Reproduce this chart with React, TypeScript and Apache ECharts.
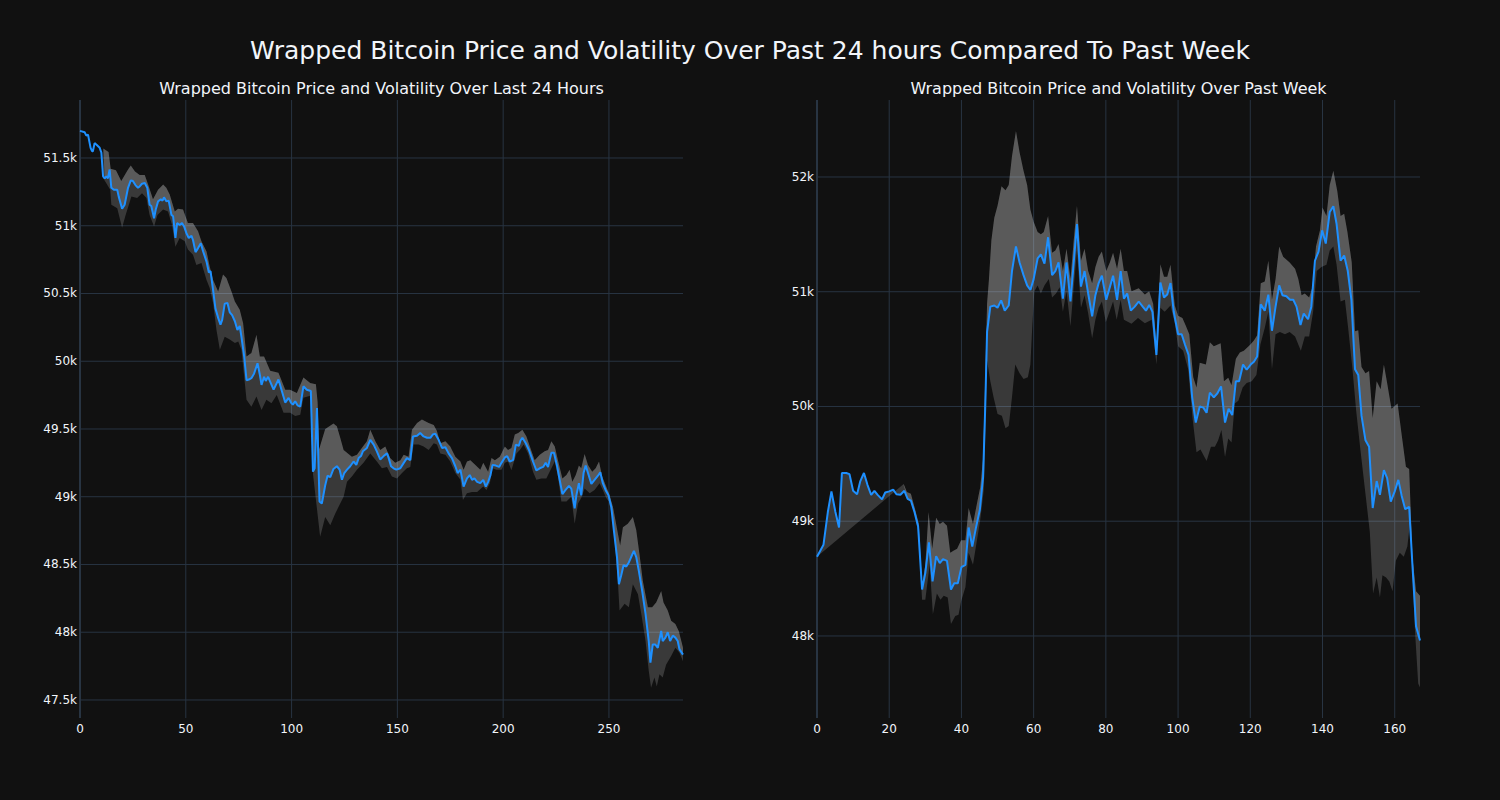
import { useEffect, useRef } from "react";
import * as echarts from "echarts";

// ---------- data (x index, price in USD) ----------
const leftPrice: [number, number][] = [
  [0,51700],[2.2,51690],[3,51665],[3.8,51672],[5,51575],[5.7,51550],[6.1,51550],[6.9,51610],[7.7,51600],[9.3,51575],[10.1,51540],[10.9,51365],[11.7,51350],[12.5,51365],[13.2,51350],[14,51415],[14.8,51280],[16,51265],[17.6,51265],[18.3,51215],[19.9,51125],[21.1,51155],[22.7,51280],[24,51335],[25,51330],[26.2,51300],[27.4,51280],[28.2,51290],[29.3,51310],[30.6,51315],[31.8,51280],[32.9,51155],[33.7,51145],[35,51055],[35.8,51120],[36.9,51180],[38.2,51195],[39,51185],[39.7,51210],[40.8,51180],[41.9,51185],[43.2,51080],[44,51070],[45.1,50910],[45.9,51020],[47.1,51005],[48.2,51020],[49.2,50995],[50.3,50945],[51.4,50910],[52.7,50925],[53.4,50895],[54.6,50805],[55.8,50835],[57.1,50870],[58.2,50810],[59.8,50735],[60.9,50655],[61.7,50665],[62.9,50525],[64,50390],[65.3,50320],[66.4,50270],[67.2,50305],[68.4,50425],[69.7,50430],[70.8,50360],[71.9,50340],[73.2,50295],[74.4,50230],[75.5,50260],[76.3,50180],[77.6,50035],[78.7,49860],[79.8,49865],[81,49875],[82.3,49910],[83.9,49985],[85,49900],[85.8,49825],[87,49885],[87.8,49855],[88.9,49885],
  [91.5,49790],[93.8,49865],[95.4,49780],[97,49695],[98.6,49730],[99.7,49695],[100.6,49680],[101.7,49705],[102.8,49675],[104.1,49665],[105.6,49815],[107.2,49790],[109.1,49780],[110.1,49185],[110.9,49210],[112,49655],[113.2,48965],[114.3,48950],[115.9,49085],[117,49155],[118.3,49145],[119.8,49205],[121.4,49225],[122.7,49200],[123.8,49125],[124.9,49175],[126.2,49200],[127.7,49225],[129.3,49260],[130.6,49235],[131.7,49285],[132.8,49300],[133.7,49335],[135.6,49360],[137.2,49420],[138.8,49385],[140.3,49335],[141.9,49275],[143.5,49300],[145.1,49320],[145.9,49285],[147,49225],[148.2,49210],[149.5,49200],[151.4,49210],[153,49250],[154.5,49285],[156.1,49270],[157.4,49445],[159.3,49450],[160.8,49470],[162.4,49445],[164,49435],[165.6,49435],[166.8,49460],[167.9,49465],[169.5,49420],[171.1,49360],[172.7,49365],[174.2,49320],[175.8,49285],[177.4,49225],[178.5,49175],[179.8,49200],[181.3,49075],[182.9,49135],[184.2,49160],[185.3,49125],[186.4,49135],[187.7,49110],[189.2,49100],
  [190.6,49125],[191.8,49075],[192.9,49110],[194,49160],[195,49235],[196.5,49230],[198.1,49220],[199.2,49250],[200.8,49290],[201.9,49300],[203.1,49260],[204.7,49270],[206,49385],[207.4,49375],[208.2,49415],[209.1,49435],[210.7,49395],[212.2,49345],[214.1,49260],[215.7,49195],[217.3,49210],[218.9,49220],[220.1,49250],[221.2,49220],[222.8,49325],[224,49325],[225.5,49225],[226.7,49125],[228,49020],[229.5,49050],[231.1,49080],[232.2,49060],[233.8,48915],[234.6,49010],[235.8,49100],[236.9,49010],[238,49175],[239,49230],[240.1,49175],[241.7,49095],[243.2,49125],[244.8,49155],[245.9,49180],[247.1,49100],[248.4,49050],[249.8,49010],[251.1,48925],[252.3,48755],[253.8,48555],[254.7,48355],[255.8,48420],[256.9,48495],[258.2,48485],[259.4,48515],[260.5,48555],[261.8,48600],[262.9,48555],[264.1,48455],[265.7,48305],[267.3,48135],[268.8,47935],[269.6,47775],[270.7,47910],[271.8,47910],[273.1,47885],[274.7,48010],[275.4,47935],[276.7,47960],[277.8,48000],[278.9,47935],[280.2,47975],[281.4,47960],[282.5,47935],[283.3,47875],[285,47835],
];

const leftUpper: [number, number][] = [
  [11,51570],[13.5,51545],[14.5,51420],[17,51410],[19.5,51330],[22.7,51415],[24,51445],[26,51400],[28.2,51375],[30.6,51375],[32.2,51305],[34.5,51195],[36.9,51265],[39.3,51305],[40.8,51280],[42.4,51230],[44.8,51105],[46.3,51125],[48.7,51120],[51,51020],[53.4,51020],[55.8,50960],[57.4,50885],[59.8,50810],[61.3,50700],[62.9,50600],[65.3,50515],[67.6,50640],[69.2,50615],[71.6,50515],[73.2,50440],[75.5,50380],[77.1,50280],[78.7,50035],[81,50060],[83.4,50195],[85,50035],[87,50035],[89.9,49930],[93.8,49915],[97,49790],[99.3,49790],[102.5,49765],[105.6,49880],[108.8,49840],[111.5,49830],[112.3,49700],[113,49350],[115.9,49500],[119.8,49540],[121.4,49520],[123,49435],[124.6,49345],[128.5,49295],[130.9,49310],[133.2,49360],[135.6,49410],[137.2,49495],[139.6,49410],[141.9,49345],[144.3,49370],[146.6,49285],[149,49250],[151.4,49270],[153,49310],[155.3,49295],[156.9,49495],[159.3,49545],[161.6,49570],[164.8,49545],[167.2,49530],[168.7,49485],[170.3,49395],[172.7,49410],[175,49370],[177.4,49295],[179.8,49260],[181.3,49200],[182.9,49260],[184.5,49270],[186.9,49235],[189.2,49200],[190.6,49250],[192.9,49185],[194.5,49285],[196.1,49270],[198.4,49295],[200.8,49370],[202.3,49345],[203.9,49360],[205.5,49460],[207.1,49470],[209.1,49495],[211,49445],[213.4,49335],[214.9,49270],[217.3,49310],[219.6,49335],[221.2,49345],[222.8,49410],[224.4,49370],[225.9,49270],[228,49135],[229.9,49160],[231.4,49200],[232.7,49110],[234.3,49160],[235.8,49230],[236.9,49210],[238.5,49315],[240.1,49235],[242.1,49185],[243.7,49210],[245.3,49260],[246.8,49150],[248.7,49075],[250,49025],[251.9,48925],[254.2,48730],[255.3,48640],[256.6,48775],[258.9,48800],[261.3,48850],[262.9,48755],[264.4,48580],[266,48380],[268.4,48185],[270.4,48185],[272.3,48220],[274.7,48305],[275.8,48220],[277.8,48160],[279.4,48085],[281.4,48060],[283,48010],[285,47885],
];

const leftLower: [number, number][] = [
  [11,51350],[14.3,51265],[14.8,51155],[17.6,51130],[19.9,50985],[21.4,51070],[24.3,51215],[27,51205],[29.3,51240],[31.4,51205],[32.9,51080],[35,50995],[36.6,51080],[39.3,51120],[41.6,51105],[43.5,51005],[45.1,50845],[47.1,50910],[49.5,50885],[51,50825],[53.4,50785],[55,50710],[57.4,50725],[59.8,50600],[61.3,50540],[62.9,50430],[64.5,50230],[66.1,50085],[68.4,50180],[70.8,50160],[73.2,50135],[74.8,50145],[76.3,50085],[78.7,49715],[81,49665],[83.4,49740],[85.8,49640],[88.1,49715],[90.5,49690],[93,49750],[96.2,49620],[99.3,49620],[101.7,49595],[104.1,49605],[105.6,49730],[108.8,49745],[110.1,49170],[113.5,48705],[115.9,48850],[118.3,48790],[120.6,48875],[123,48950],[124.6,49000],[126.2,49110],[128.5,49150],[130.9,49200],[134,49250],[137.2,49320],[140.3,49260],[142.7,49210],[145.1,49220],[147.4,49150],[149.8,49135],[152.2,49175],[154.5,49210],[156.1,49220],[157.7,49385],[160.1,49385],[162.4,49370],[164.8,49345],[167.2,49395],[168.7,49385],[170.3,49320],[172.7,49310],[175,49260],[177.4,49175],[179.8,49125],[181,48975],[182.9,49025],[185.3,49035],[187.7,49035],[190.6,49075],[192.1,49050],[193.7,49100],[195,49210],[196.8,49200],[199.2,49200],[200.8,49250],[202.3,49260],[203.9,49195],[206.3,49320],[207.9,49345],[209.7,49385],[211.8,49320],[214.1,49185],[215.7,49125],[218.1,49135],[220.4,49135],[222.8,49210],[224.4,49260],[225.9,49150],[227.5,48965],[229.9,48965],[232.2,49000],[233.8,48800],[235.4,48950],[236.9,48990],[238.5,49060],[240.9,49025],[243.2,49050],[245.6,49100],[247.1,49050],[248.7,48990],[250,48965],[251.9,48825],[254.2,48380],[255,48160],[257.4,48210],[259.4,48185],[261.3,48355],[263.7,48280],[265.3,48135],[267.3,47935],[268.8,47715],[269.9,47590],[271.5,47665],[272.6,47600],[273.9,47690],[275.4,47665],[277,47760],[279.4,47825],[281.4,47885],[283.3,47850],[285,47785],
];

const rightPrice: [number, number][] = [
  [0,48690],[1.8,48795],[3,49080],[4,49260],[5.1,49080],[6.1,48945],[6.9,49420],[8.1,49420],[9,49410],[10,49265],[11.1,49235],[12,49350],[13,49420],[14,49315],[15,49230],[15.9,49265],[16.8,49230],[18,49190],[18.9,49250],[20,49260],[21.1,49275],[22,49235],[23.1,49230],[24.2,49265],[25.1,49195],[26,49180],[27,49080],[28,48955],[29.1,48405],[30,48550],[31,48815],[32,48475],[33,48695],[34,48635],[34.9,48670],[36,48655],[37.1,48405],[38,48460],[39,48460],[40,48600],[41.1,48620],[42,48945],[43,48780],[44,48940],[45.1,49100],[46,49385],[46.6,50005],[47.1,50650],[48,50870],[49.1,50880],[50,50860],[51,50925],[52,50835],[53.1,50880],[54,51180],[55.1,51395],[56.1,51255],[57.2,51145],[58.2,51055],[59.1,51015],[60,51110],[61.1,51290],[62,51325],[63,51245],[64,51475],[65.1,51145],[66,51180],[66.9,51255],[68.1,50940],[69.1,51255],[70.2,50915],[71.1,51255],[72,51590],[73.1,51045],[74.1,51180],[75.1,50985],[76.2,50785],[77.1,50970],[78,51075],[78.9,51140],[80.1,50930],[81.1,51040],[82,51140],[83.1,50930],[84.1,51180],[85,50940],[85.9,50985],[86.9,50835],[88,50870],[89.1,50915],[90.2,50870],[91.1,50835],[92,50885],[92.9,50825],[94,50450],[95.1,51080],[96.1,50950],[97,50975],[97.9,51075],[98.8,50825],[100,50630],[101,50630],[101.9,50540],[102.9,50450],[103.9,50080],[104.9,49860],[106,50000],[107,49990],[107.9,49945],[108.8,50120],[109.9,50080],[110.9,50115],[111.9,50175],[113,49860],[114,49980],[115,49925],[116,50220],[116.9,50220],[118,50365],[119,50320],[120.1,50365],[121,50390],[121.9,50435],[122.9,50890],[124,50835],[125,50975],[126,50660],[127,50870],[128,51055],[128.9,50970],[130,50960],[131,50930],[131.9,50930],[132.8,50870],[133.9,50710],[134.8,50810],[136,50760],[136.9,50870],[137.9,51270],[138.9,51350],[139.9,51535],[140.9,51420],[142,51695],[143,51745],[143.9,51590],[145,51270],[146,51315],[147,51180],[148,50930],[149,50325],[149.9,50275],[150.8,49920],[151.9,49705],[152.9,49650],[153.9,49115],[155,49350],[155.9,49230],[157,49445],[157.9,49375],[158.9,49170],[160,49260],[161,49360],[161.9,49225],[162.9,49105],[164,49125],[164.9,48620],[165.9,48085],[167,47960],
];

const rightUpper: [number, number][] = [
  [24,49325],[24.9,49255],[26,49240],[27.2,49100],[28.2,48975],[29.1,48440],[30,48620],[30.9,49080],[31.9,48760],[33,49030],[34,48975],[34.9,48995],[36,48960],[36.9,48725],[37.9,48745],[38.8,48760],[39.9,48835],[41.1,48835],[42,49115],[43.2,48975],[44.3,49155],[45.2,49295],[46,49550],[46.6,50250],[47.1,50900],[47.6,51100],[48.3,51450],[49.1,51645],[50,51750],[51.1,51920],[52.2,51885],[53.1,51930],[54,52180],[55.1,52400],[56.1,52215],[57.2,52055],[58.2,51930],[59.1,51715],[60,51610],[61.1,51520],[62,51500],[62.8,51520],[64,51660],[65.1,51340],[66,51360],[66.9,51415],[68.1,51180],[69.1,51375],[70.2,51110],[71.1,51450],[72,51750],[73.1,51270],[74.1,51375],[75.1,51180],[76.2,51075],[77.1,51215],[78,51305],[78.9,51350],[80.1,51180],[81.1,51255],[82,51340],[83.1,51200],[84.1,51375],[85,51180],[85.9,51180],[87.1,51005],[89.1,51030],[90.8,50975],[92,51005],[93.1,50895],[94,50540],[95.1,51240],[96.1,51130],[97,51130],[97.9,51235],[99.1,50880],[100,50790],[101.2,50770],[102.2,50700],[103.1,50630],[104.2,50255],[105.1,50165],[106,50380],[107.7,50365],[108.8,50560],[109.9,50525],[111.8,50550],[112.7,50220],[113.9,50250],[114.8,50185],[116,50415],[117.1,50470],[118.2,50485],[119.9,50535],[121,50575],[121.9,50620],[122.9,51075],[124,51090],[125,51270],[126,50930],[127,51110],[128,51395],[129.1,51305],[130.9,51255],[132.4,51200],[133.3,51110],[134.2,50970],[135.1,50985],[136.3,50950],[137.2,51040],[138.2,51395],[139.3,51535],[140,51735],[141.1,51660],[142,51930],[143,52055],[144.1,51875],[145,51660],[146,51680],[146.9,51520],[148.1,51255],[149,50655],[149.9,50665],[150.8,50345],[151.9,50290],[152.9,50310],[153.9,49900],[155,50220],[156.1,50150],[157,50365],[157.9,50205],[159.1,49980],[160.8,50025],[161.9,49760],[163.1,49475],[164,49455],[164.9,48690],[165.9,48390],[167,48350],
];

const rightLower: [number, number][] = [
  [24,49310],[25.1,49195],[26,49170],[27,49065],[28,48920],[29.1,48315],[30,48315],[31.2,48620],[32.1,48190],[33.2,48370],[34.2,48315],[35.1,48350],[36.2,48335],[37.1,48105],[38.3,48175],[39.2,48185],[39.9,48300],[41.1,48425],[42,48725],[43.2,48620],[44.3,48835],[45.2,49010],[46.2,49275],[47.1,50400],[48,50220],[48.9,50080],[50,49935],[51.2,49920],[52.2,49810],[53.1,49830],[54,50080],[54.9,50365],[56.1,50290],[57.2,50240],[58.4,50255],[59.1,50365],[59.6,50685],[60.2,51005],[61.1,51055],[62,50985],[63,51055],[64.2,51110],[65.1,50950],[66.2,50985],[67.2,51040],[68.1,50825],[69.1,51005],[70.2,50700],[71.1,51040],[72,51360],[73.1,50860],[74.1,50970],[75.1,50810],[76.2,50595],[77.1,50755],[78,50860],[78.9,50915],[80,50735],[82,50915],[83,50755],[84.1,50930],[85,50755],[87.1,50720],[88.9,50770],[90.8,50725],[92.7,50755],[94,50365],[95.1,50860],[96.3,50825],[97.9,50880],[99.1,50720],[100,50525],[101.4,50485],[102.8,50325],[104,49900],[105.1,49600],[106.2,49625],[107.9,49525],[109.1,49650],[110.2,49650],[111.1,49705],[112,49795],[113,49560],[113.9,49720],[114.8,49685],[115.7,50025],[116.7,50050],[117.9,50165],[119,50205],[120.4,50220],[121.7,50275],[122.8,50540],[124,50685],[125,50825],[126,50325],[127,50630],[128.2,50650],[129.6,50630],[130.9,50650],[132.4,50610],[134,50485],[135.1,50610],[136.3,50610],[137.4,50825],[138.4,51180],[139.7,51215],[141.1,51235],[142,51360],[143,51395],[143.9,51235],[145,50915],[146.2,50930],[147.1,50685],[148.3,50325],[149.3,49970],[150.4,49650],[151.3,49400],[152.2,49155],[153.1,48905],[154,48370],[155,48510],[155.9,48335],[156.6,48530],[157.6,48510],[158.5,48475],[159.4,48390],[160.3,48655],[161.4,48725],[162.5,48690],[163.5,48780],[164.2,48975],[164.9,48560],[165.6,48050],[166.5,47585],[167,47550],
];

const leftXTicks = [0, 50, 100, 150, 200, 250];
const leftYTicks = [47500, 48000, 48500, 49000, 49500, 50000, 50500, 51000, 51500];
const rightXTicks = [0, 20, 40, 60, 80, 100, 120, 140, 160];
const rightYTicks = [48000, 49000, 50000, 51000, 52000];
const leftXRange = [0, 285];
const leftYRange = [47367, 51928];
const rightXRange = [0, 167];
const rightYRange = [47285, 52671];

const mainTitle = "Wrapped Bitcoin Price and Volatility Over Past 24 hours Compared To Past Week";
const leftTitle = "Wrapped Bitcoin Price and Volatility Over Last 24 Hours";
const rightTitle = "Wrapped Bitcoin Price and Volatility Over Past Week";

// ---------- styling ----------
const BG = "#111111";
const TEXT = "#f2f5fa";
const GRID = "#283442";
const LINE = "#1E90FF";
const FILL = "rgba(255,255,255,0.17)";
const FONT = "DejaVu Sans";

function gridSeries(idx: number, xTicks: number[], yTicks: number[], xr: number[], yr: number[]) {
  const data = [
    ...yTicks.map((v) => [xr[0], v, 0]),
    ...xTicks.map((v) => [v, yr[0], 1]),
  ];
  return {
    type: "custom",
    xAxisIndex: idx,
    yAxisIndex: idx,
    z: 1,
    silent: true,
    data,
    encode: { x: 0, y: 1 },
    renderItem: (_p: any, api: any) => {
      const kind = api.value(2);
      let a, b, w = 1;
      if (kind === 0) {
        const v = api.value(1);
        a = api.coord([xr[0], v]);
        b = api.coord([xr[1], v]);
      } else {
        const v = api.value(0);
        a = api.coord([v, yr[0]]);
        b = api.coord([v, yr[1]]);
        if (v === 0) w = 2;
      }
      return {
        type: "line",
        shape: { x1: a[0], y1: a[1], x2: b[0], y2: b[1] },
        style: { stroke: GRID, lineWidth: w },
      };
    },
  };
}

function polySeries(idx: number, pts: [number, number][], z: number) {
  return {
    type: "custom",
    xAxisIndex: idx,
    yAxisIndex: idx,
    z,
    silent: true,
    data: [pts[0]],
    renderItem: (_p: any, api: any) => ({
      type: "polygon",
      shape: { points: pts.map((p) => api.coord(p)) },
      style: { fill: FILL },
    }),
  };
}

function panel(idx: number, price: [number, number][], upper: [number, number][], lower: [number, number][], xTicks: number[], yTicks: number[], xr: number[], yr: number[], closeToStart: boolean) {
  const band = [...upper, ...lower.slice().reverse()];
  const priceBack = price.filter((p) => closeToStart || p[0] >= upper[0][0]).slice().reverse();
  const light = [...upper, ...priceBack];
  return [
    gridSeries(idx, xTicks, yTicks, xr, yr),
    polySeries(idx, band, 2),
    polySeries(idx, light, 3),
    {
      type: "line",
      xAxisIndex: idx,
      yAxisIndex: idx,
      data: price,
      symbol: "none",
      showSymbol: false,
      silent: true,
      z: 5,
      lineStyle: { color: LINE, width: 2 },
    },
  ];
}

function xAxis(idx: number, xr: number[], ticks: number[]) {
  return {
    gridIndex: idx,
    type: "value",
    min: xr[0],
    max: xr[1],
    axisLine: { show: false },
    axisTick: { show: false },
    splitLine: { show: false },
    axisLabel: { customValues: ticks, color: TEXT, fontSize: 12, fontFamily: FONT, margin: 5 },
  };
}

function yAxis(idx: number, yr: number[], ticks: number[]) {
  return {
    gridIndex: idx,
    type: "value",
    min: yr[0],
    max: yr[1],
    axisLine: { show: false },
    axisTick: { show: false },
    splitLine: { show: false },
    axisLabel: {
      customValues: ticks,
      color: TEXT,
      fontSize: 12,
      fontFamily: FONT,
      margin: 3,
      formatter: (v: number) => `${v / 1000}k`,
    },
  };
}

export default function App() {
  const ref = useRef<HTMLDivElement>(null);
  useEffect(() => {
    document.body.style.margin = "0";
    document.body.style.background = BG;
    if (!ref.current) return;
    const chart = echarts.init(ref.current, undefined, { renderer: "svg" });
    chart.setOption({
      animation: false,
      backgroundColor: BG,
      textStyle: { fontFamily: FONT },
      grid: [
        { left: 80, top: 100, width: 603, height: 618 },
        { left: 817, top: 100, width: 603, height: 618 },
      ],
      xAxis: [xAxis(0, leftXRange, leftXTicks), xAxis(1, rightXRange, rightXTicks)],
      yAxis: [yAxis(0, leftYRange, leftYTicks), yAxis(1, rightYRange, rightYTicks)],
      graphic: [
        { type: "text", x: 750, y: 50, style: { text: mainTitle, fill: TEXT, font: `25px "${FONT}"`, textAlign: "center", textVerticalAlign: "middle" } },
        { type: "text", x: 381.5, y: 88.5, style: { text: leftTitle, fill: TEXT, font: `16px "${FONT}"`, textAlign: "center", textVerticalAlign: "middle" } },
        { type: "text", x: 1118.5, y: 88.5, style: { text: rightTitle, fill: TEXT, font: `16px "${FONT}"`, textAlign: "center", textVerticalAlign: "middle" } },
      ],
      series: [
        ...panel(0, leftPrice, leftUpper, leftLower, leftXTicks, leftYTicks, leftXRange, leftYRange, false),
        ...panel(1, rightPrice, rightUpper, rightLower, rightXTicks, rightYTicks, rightXRange, rightYRange, true),
      ],
    });
    return () => chart.dispose();
  }, []);
  return <div ref={ref} style={{ width: 1500, height: 800 }} />;
}
